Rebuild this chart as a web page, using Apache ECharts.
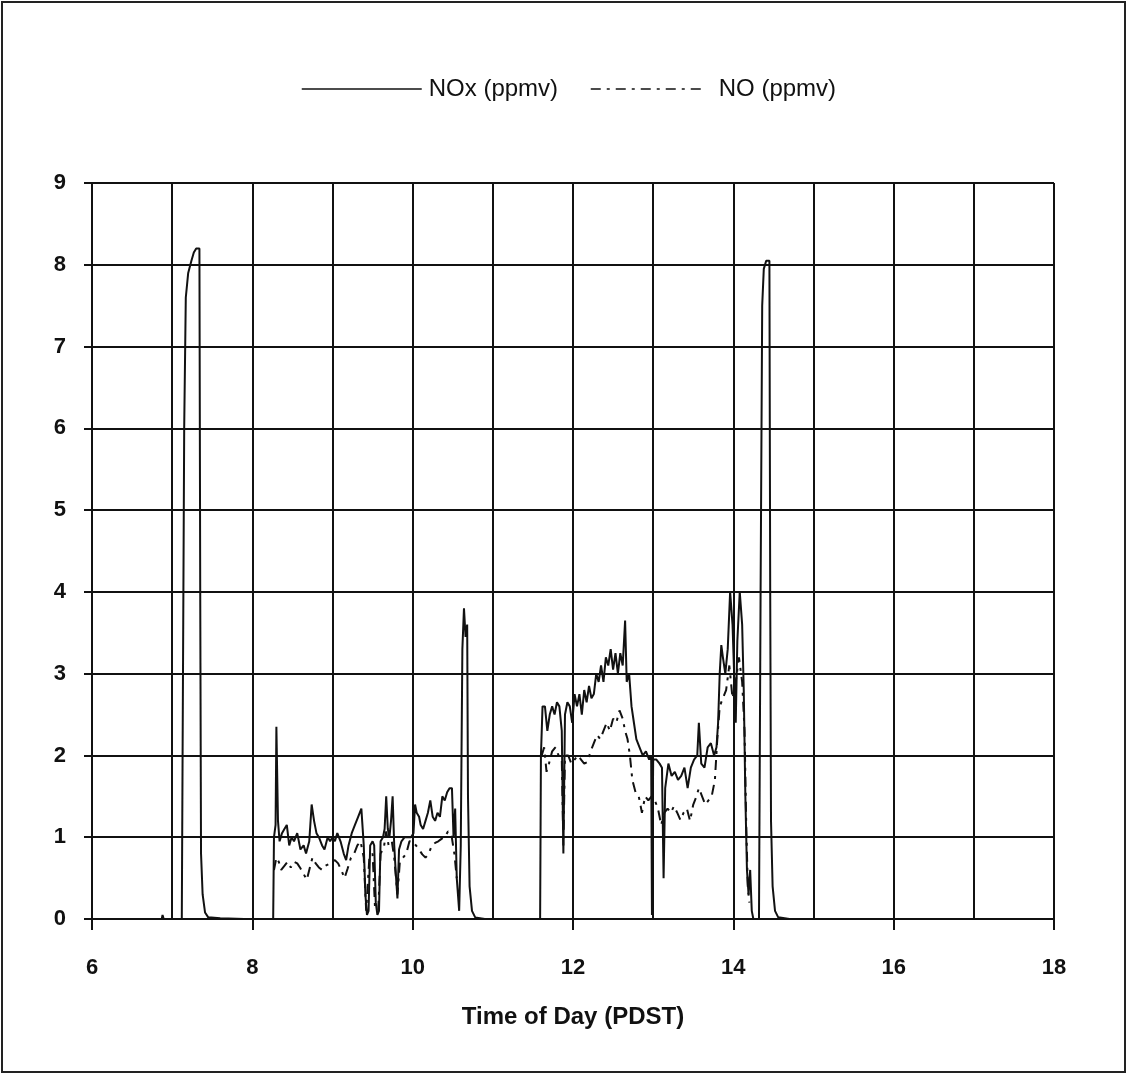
<!DOCTYPE html>
<html>
<head>
<meta charset="utf-8">
<script src="https://cdn.jsdelivr.net/npm/echarts@6/dist/echarts.min.js"></script>
<style>
html,body{margin:0;padding:0;background:#fff;}
#chart{width:1128px;height:1080px;}
</style>
</head>
<body>
<div id="chart"></div>
<script>
// ---- Data (time of day in hours PDST, concentrations in ppmv) ----
const seriesNames = ['NOx (ppmv)', 'NO (ppmv)'];
const xTickLabels = [6, 8, 10, 12, 14, 16, 18];
const yTickLabels = [0, 1, 2, 3, 4, 5, 6, 7, 8, 9];

const noxTime = [
  6.87, 6.88, 6.90, 6.95, 7.05, 7.12, 7.13, 7.15, 7.17, 7.20, 7.24, 7.27, 7.30, 7.34, 7.35, 7.36, 7.38, 7.41, 7.45, 7.60, 7.90, 7.97, 8.02, 8.10, 8.26,
  8.27, 8.29, 8.30, 8.32, 8.34, 8.37, 8.40, 8.43, 8.46, 8.49, 8.52, 8.56, 8.60, 8.64, 8.67, 8.71, 8.74, 8.77, 8.80, 8.83, 8.87, 8.90, 8.94, 8.97,
  9.00, 9.03, 9.06, 9.10, 9.14, 9.17, 9.20, 9.24, 9.28, 9.32, 9.36, 9.39, 9.41, 9.43, 9.45, 9.47, 9.50, 9.52, 9.54, 9.56, 9.58, 9.60, 9.63, 9.65,
  9.67, 9.69, 9.71, 9.73, 9.75, 9.77, 9.79, 9.81, 9.83, 9.86, 9.90, 9.94, 9.98, 10.01, 10.03, 10.05, 10.08, 10.10, 10.13, 10.16, 10.19, 10.22,
  10.25, 10.28, 10.31, 10.34, 10.37, 10.40, 10.43, 10.46, 10.49, 10.51, 10.53, 10.55, 10.58, 10.60, 10.62, 10.64, 10.66, 10.68, 10.69, 10.71,
  10.74, 10.78, 10.90, 11.59,
  11.60, 11.62, 11.65, 11.68, 11.71, 11.74, 11.77, 11.80, 11.83, 11.86, 11.88, 11.90, 11.93, 11.96, 11.99, 12.02, 12.05, 12.08, 12.11, 12.14,
  12.17, 12.20, 12.23, 12.26, 12.29, 12.32, 12.35, 12.38, 12.41, 12.44, 12.47, 12.50, 12.53, 12.56, 12.59, 12.62, 12.65, 12.67, 12.70, 12.73,
  12.76, 12.79, 12.83, 12.87, 12.91, 12.95, 12.975, 12.985, 13.00, 13.04, 13.08, 13.11, 13.13, 13.15, 13.19, 13.23, 13.27, 13.31, 13.35, 13.39,
  13.43, 13.47, 13.51, 13.55, 13.57, 13.60, 13.64, 13.68, 13.72, 13.76, 13.79, 13.81, 13.83, 13.85, 13.87, 13.90, 13.93, 13.96, 13.99, 14.01,
  14.03, 14.05, 14.08, 14.11, 14.13, 14.15, 14.17, 14.19, 14.21, 14.23, 14.25, 14.32, 14.34, 14.36, 14.38, 14.41, 14.45, 14.46, 14.47, 14.49,
  14.52, 14.56, 14.70, 15.00
];
const noxValues = [
  0.00, 0.05, -0.02, -0.04, -0.04, -0.03, 2.0, 6.0, 7.6, 7.9, 8.05, 8.15, 8.2, 8.2, 4.0, 0.8, 0.3, 0.08, 0.02, 0.01, 0.0, -0.05, -0.03, 0.0, 0.0,
  1.0, 1.15, 2.35, 1.2, 0.95, 1.05, 1.1, 1.15, 0.9, 1.0, 0.95, 1.05, 0.85, 0.9, 0.8, 0.95, 1.4, 1.2, 1.05, 1.0, 0.9, 0.85, 1.0, 0.95,
  1.0, 0.95, 1.05, 0.95, 0.8, 0.72, 0.9, 1.05, 1.15, 1.25, 1.35, 0.9, 0.3, 0.05, 0.1, 0.9, 0.95, 0.9, 0.2, 0.05, 0.1, 0.95, 1.0, 1.1,
  1.5, 1.1, 1.0, 1.2, 1.5, 0.9, 0.55, 0.25, 0.85, 0.95, 1.0, 1.0, 1.0, 1.05, 1.4, 1.3, 1.25, 1.15, 1.1, 1.2, 1.3, 1.45,
  1.25, 1.2, 1.3, 1.25, 1.5, 1.45, 1.55, 1.6, 1.6, 1.0, 1.35, 0.5, 0.1, 0.9, 3.3, 3.8, 3.45, 3.6, 1.5, 0.4,
  0.1, 0.02, 0.0, 0.0,
  2.0, 2.6, 2.6, 2.3, 2.5, 2.6, 2.5, 2.65, 2.6, 2.3, 0.8, 2.5, 2.65, 2.6, 2.4, 2.75, 2.6, 2.75, 2.5, 2.8,
  2.65, 2.85, 2.7, 2.75, 3.0, 2.9, 3.1, 2.9, 3.2, 3.1, 3.3, 3.05, 3.25, 3.0, 3.25, 3.1, 3.65, 2.9, 3.0, 2.6,
  2.4, 2.2, 2.1, 2.0, 2.05, 1.95, 2.0, 0.05, 1.95, 1.95, 1.9, 1.85, 0.5, 1.6, 1.9, 1.75, 1.8, 1.7, 1.75, 1.85,
  1.6, 1.85, 1.95, 2.0, 2.4, 1.9, 1.85, 2.1, 2.15, 2.0, 2.1, 2.4, 3.0, 3.35, 3.2, 3.0, 3.3, 4.0, 3.6, 3.0,
  2.4, 3.4, 4.0, 3.6, 2.8, 1.5, 0.6, 0.3, 0.6, 0.1, 0.0, 0.0, 4.0, 7.5, 7.95, 8.05, 8.05, 4.0, 1.2, 0.4,
  0.1, 0.02, 0.0, 0.0
];

const noTime = [
  8.27, 8.30, 8.33, 8.36, 8.40, 8.44, 8.48, 8.52, 8.56, 8.60, 8.64, 8.68, 8.71, 8.75, 8.79, 8.83, 8.87, 8.91, 8.95, 8.99,
  9.03, 9.07, 9.11, 9.15, 9.19, 9.23, 9.27, 9.31, 9.35, 9.39, 9.42, 9.46, 9.50, 9.53, 9.57, 9.60, 9.64, 9.67, 9.70, 9.74,
  9.77, 9.81, 9.84, 9.88, 9.92, 9.96, 10.00, 10.04, 10.08, 10.12, 10.16, 10.20, 10.24, 10.28, 10.32, 10.36, 10.40, 10.44,
  10.48, 10.52, 10.55, 10.56,
  11.61, 11.64, 11.67, 11.70, 11.74, 11.78, 11.82, 11.86, 11.88, 11.90, 11.94, 11.98, 12.02, 12.06, 12.10, 12.14, 12.18,
  12.22, 12.26, 12.30, 12.34, 12.38, 12.42, 12.46, 12.50, 12.54, 12.58, 12.62, 12.65, 12.68, 12.71, 12.74, 12.78, 12.82,
  12.86, 12.90, 12.94, 12.98, 13.02, 13.06, 13.10, 13.14, 13.18, 13.22, 13.26, 13.30, 13.34, 13.38, 13.42, 13.46, 13.50,
  13.54, 13.57, 13.61, 13.65, 13.69, 13.73, 13.77, 13.80, 13.83, 13.87, 13.91, 13.95, 13.99, 14.03, 14.07, 14.11, 14.14,
  14.16, 14.18, 14.20
];
const noValues = [
  0.6, 0.75, 0.7, 0.6, 0.65, 0.7, 0.63, 0.7, 0.68, 0.62, 0.55, 0.48, 0.6, 0.75, 0.68, 0.63, 0.6, 0.65, 0.67, 0.7,
  0.72, 0.68, 0.6, 0.5, 0.62, 0.75, 0.8, 0.9, 0.95, 0.75, 0.1, 0.75, 0.8, 0.15, 0.1, 0.8, 0.87, 1.07, 0.9, 0.95,
  0.75, 0.3, 0.7, 0.75, 0.8, 0.95, 0.95, 0.9, 0.85, 0.79, 0.75, 0.8, 0.9, 0.93, 0.95, 0.98, 1.0, 1.07,
  1.05, 0.8, 0.5, null,
  2.0, 2.1, 1.8, 1.9, 2.05, 2.1, 2.0, 1.95, 0.9, 2.0, 2.0, 1.9, 1.95, 2.0, 1.95, 1.9, 1.92,
  2.05, 2.15, 2.25, 2.2, 2.3, 2.4, 2.3, 2.45, 2.4, 2.55, 2.45, 2.3, 2.2, 2.0, 1.7, 1.55, 1.5,
  1.3, 1.5, 1.45, 1.5, 1.45, 1.35, 1.15, 1.3, 1.35, 1.3, 1.38, 1.3, 1.21, 1.3, 1.35, 1.2, 1.4,
  1.5, 1.6, 1.5, 1.4, 1.45, 1.5, 1.7, 2.2, 2.6, 2.7, 2.8, 3.1, 2.7, 2.9, 3.2, 2.9, 2.3,
  1.2, 0.4, 0.2
];

// ---- Build chart ----
const noxData = noxTime.map((t, i) => [t, noxValues[i]]);
const noData = noTime.map((t, i) => [t, noValues[i]]);

const chart = echarts.init(document.getElementById('chart'), null, {renderer: 'canvas'});
const FONT = '"Liberation Sans", Arial, sans-serif';
const gridLine = {color: '#111', width: 2};

chart.setOption({
  backgroundColor: '#ffffff',
  animation: false,
  graphic: [{
    type: 'rect',
    shape: {x: 2, y: 2, width: 1123, height: 1070},
    style: {fill: 'none', stroke: '#222', lineWidth: 2},
    silent: true, z: -1
  }],
  legend: [{
    data: [seriesNames[0]],
    left: 296, top: 72,
    itemWidth: 120, itemHeight: 16, itemGap: 10,
    itemStyle: {opacity: 0},
    lineStyle: {width: 1.5},
    textStyle: {fontFamily: FONT, fontSize: 24, color: '#111', padding: [0, 0, 0, 2]}
  }, {
    data: [seriesNames[1]],
    left: 585, top: 72,
    itemWidth: 111, itemHeight: 16, itemGap: 10,
    itemStyle: {opacity: 0},
    lineStyle: {width: 1.5},
    textStyle: {fontFamily: FONT, fontSize: 24, color: '#111', padding: [0, 0, 0, 12]}
  }],
  grid: {left: 92, right: 74, top: 183, bottom: 161, containLabel: false},
  xAxis: {
    type: 'value', min: xTickLabels[0], max: xTickLabels[xTickLabels.length - 1], interval: 2,
    name: 'Time of Day (PDST)', nameLocation: 'middle', nameGap: 86,
    nameTextStyle: {fontFamily: FONT, fontSize: 24, fontWeight: 'bold', color: '#111'},
    axisLine: {show: true, onZero: false, lineStyle: gridLine},
    axisTick: {show: true, inside: false, length: 11, lineStyle: gridLine},
    axisLabel: {margin: 38, fontFamily: FONT, fontSize: 22, fontWeight: 'bold', color: '#111'},
    splitLine: {show: true, lineStyle: gridLine},
    minorTick: {show: false, splitNumber: 2},
    minorSplitLine: {show: true, lineStyle: gridLine}
  },
  yAxis: {
    type: 'value', min: yTickLabels[0], max: yTickLabels[yTickLabels.length - 1], interval: 1,
    axisLine: {show: true, lineStyle: gridLine},
    axisTick: {show: true, inside: false, length: 8, lineStyle: gridLine},
    axisLabel: {margin: 26, fontFamily: FONT, fontSize: 22, fontWeight: 'bold', color: '#111'},
    splitLine: {show: true, lineStyle: gridLine}
  },
  series: [{
    name: seriesNames[0], type: 'line', data: noxData,
    symbol: 'none', showSymbol: false, connectNulls: false,
    lineStyle: {color: '#111', width: 2},
    itemStyle: {color: '#111'}, z: 3
  }, {
    name: seriesNames[1], type: 'line', data: noData,
    symbol: 'none', showSymbol: false, connectNulls: false,
    lineStyle: {color: '#111', width: 2, type: [10, 6, 3, 6]},
    itemStyle: {color: '#111'}, z: 2
  }]
});
</script>
</body>
</html>
